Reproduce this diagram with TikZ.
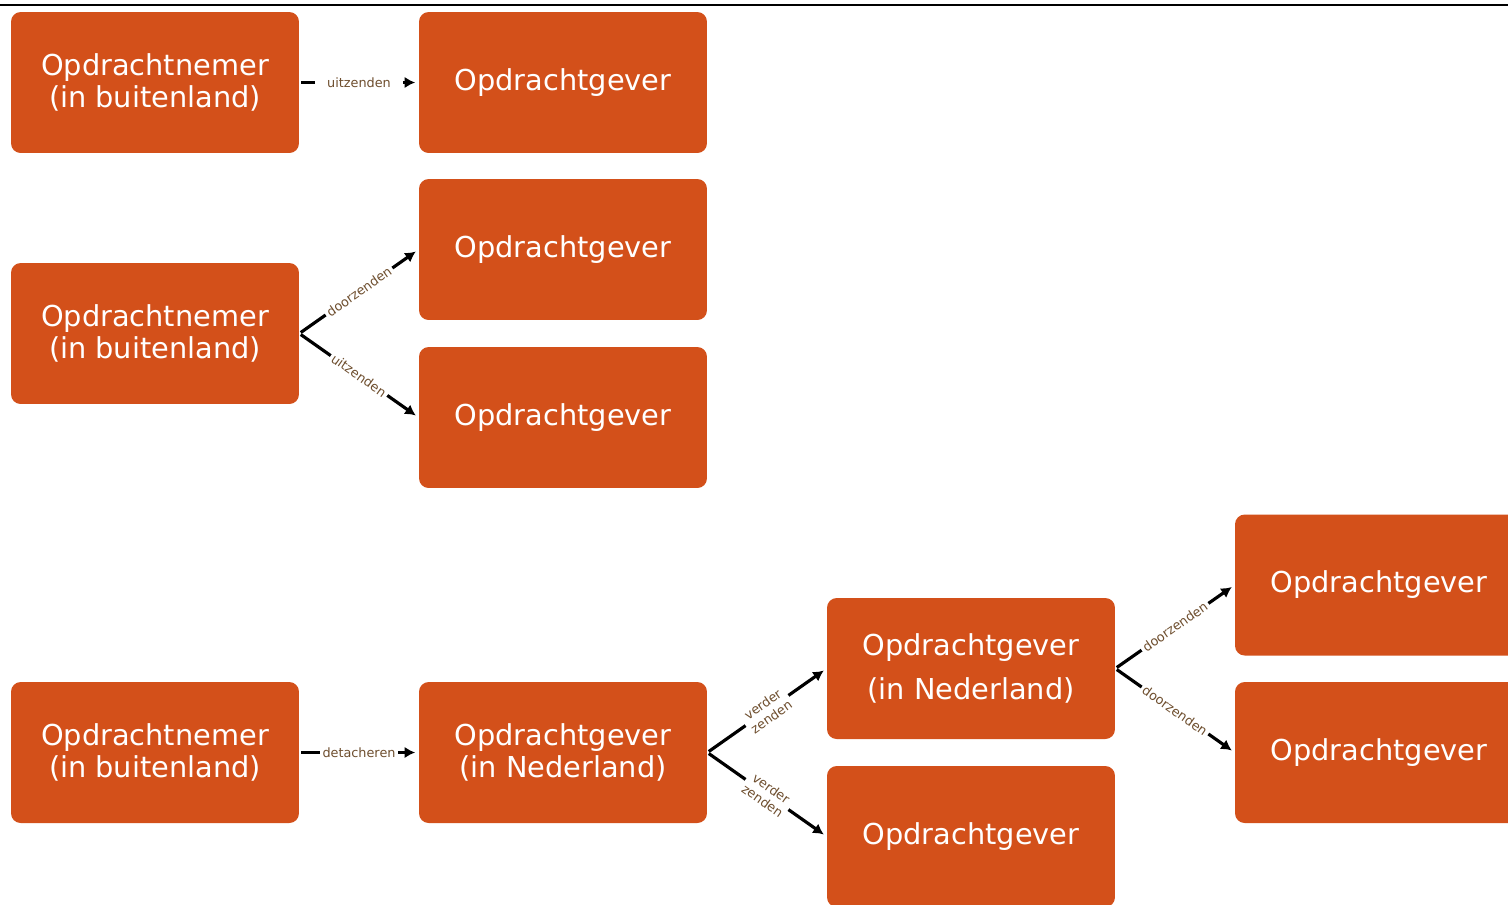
\documentclass[tikz,border=0pt]{standalone}
\usepackage{fontspec}
\setmainfont{DejaVu Sans}
\usetikzlibrary{arrows.meta}
\definecolor{boxorange}{RGB}{211,80,26}
\definecolor{labelbrown}{RGB}{110,78,46}
\tikzset{
  party/.style={fill=boxorange, rounded corners=5.5pt, text=white,
    minimum width=5.76cm, minimum height=2.82cm, inner sep=0pt,
    align=center, font=\fontsize{16.4}{18.7}\selectfont},
  link/.style={line width=1.8pt, -{Latex[length=6pt,width=6.5pt]},
    shorten <=1pt, shorten >=2pt},
  tag/.style={fill=white, text=labelbrown, inner sep=1.5pt, sloped,
    align=center, font=\fontsize{7.3}{8.6}\selectfont}
}
\begin{document}
\begin{tikzpicture}[x=0.02cm, y=-0.02cm]
      \useasboundingbox (0,0) rectangle (1508,904);
      \clip (0,0) rectangle (1508,904);
      \draw[line width=1.1pt] (0,5) -- (1508,5);
      \path
        (155,82.5) node[party] (n1){Opdrachtnemer\\(in buitenland)}
        (563,82.5) node[party] (g1){Opdrachtgever}
        (155,333.5) node[party] (n2){Opdrachtnemer\\(in buitenland)}
        (563,249.5) node[party] (g2a){Opdrachtgever}
        (563,417.5) node[party] (g2b){Opdrachtgever}
        (155,752.5) node[party] (n3){Opdrachtnemer\\(in buitenland)}
        (563,752.5) node[party] (g3){Opdrachtgever\\(in Nederland)}
        (971,668.5) node[party, font=\fontsize{16.4}{25}\selectfont] (nl){Opdrachtgever\\(in Nederland)}
        (971,836.5) node[party] (vz){Opdrachtgever}
        (1379,585) node[party] (dza){Opdrachtgever}
        (1379,752.5) node[party] (dzb){Opdrachtgever};
      \begin{scope}[link]
        \draw (n1.east) to node[tag, inner xsep=7pt]{uitzenden} (g1.west);
        \draw (n2.east) to node[tag]{doorzenden} (g2a.west);
        \draw (n2.east) to node[tag]{uitzenden} (g2b.west);
        \draw (n3.east) to node[tag]{detacheren} (g3.west);
        \draw (g3.east) to node[tag]{verder\\zenden} (nl.west);
        \draw (g3.east) to node[tag]{verder\\zenden} (vz.west);
        \draw (nl.east) to node[tag]{doorzenden} (dza.west);
        \draw (nl.east) to node[tag]{doorzenden} (dzb.west);
      \end{scope}
    \end{tikzpicture}
\end{document}
